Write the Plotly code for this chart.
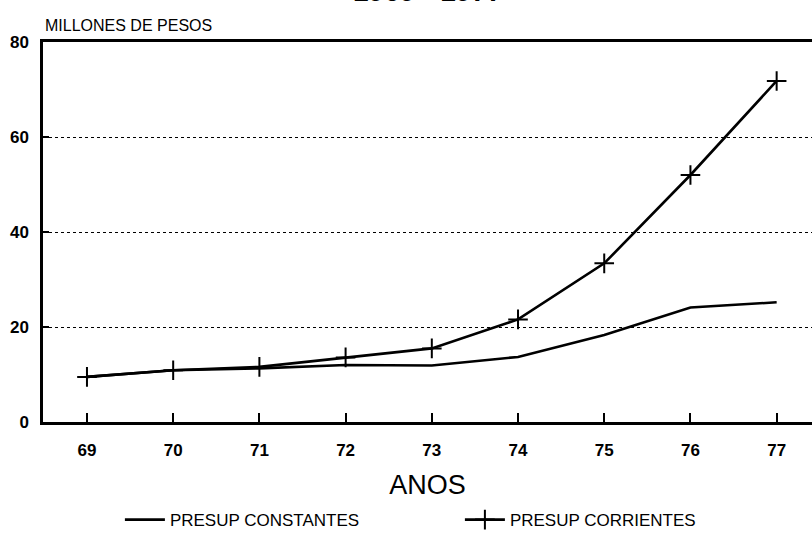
import plotly.graph_objects as go

# Budget series, millions of pesos, 1969-1977
years = [69, 70, 71, 72, 73, 74, 75, 76, 77]
year_labels = ["69", "70", "71", "72", "73", "74", "75", "76", "77"]
presup_constantes = [9.5, 10.9, 11.3, 12.0, 11.9, 13.7, 18.3, 24.1, 25.2]
presup_corrientes = [9.5, 10.9, 11.6, 13.6, 15.5, 21.6, 33.4, 52.0, 71.8]
y_ticks = [0, 20, 40, 60, 80]

FONT = "Liberation Sans, Arial, sans-serif"

fig = go.Figure()
fig.add_trace(go.Scatter(
    x=years, y=presup_constantes, mode="lines",
    name="PRESUP CONSTANTES",
    line=dict(color="black", width=2.6),
))
fig.add_trace(go.Scatter(
    x=years, y=presup_corrientes, mode="lines+markers",
    name="PRESUP CORRIENTES",
    line=dict(color="black", width=2.6),
    marker=dict(symbol="cross-thin", size=14, line=dict(color="black", width=2)),
))

fig.update_layout(
    width=812, height=545,
    margin=dict(l=43, r=0, t=42, b=123),
    paper_bgcolor="white", plot_bgcolor="white",
    font=dict(family=FONT, color="black"),
    showlegend=True,
    legend=dict(
        orientation="h", x=0.1, xanchor="left", y=-0.258, yanchor="middle",
        font=dict(size=17, family=FONT), itemwidth=40, entrywidth=285,
        bgcolor="rgba(0,0,0,0)",
    ),
    xaxis=dict(
        range=[68.49, 77.41], tickmode="array", tickvals=years, ticktext=year_labels,
        ticks="inside", ticklen=9, tickwidth=2, tickcolor="black",
        showline=True, linewidth=2.5, linecolor="black", mirror=True,
        showgrid=False, zeroline=False,
        tickfont=dict(size=17, family=FONT, weight="bold"), ticklabelstandoff=11,
        title=dict(text="ANOS", font=dict(size=27, family=FONT), standoff=16),
    ),
    yaxis=dict(
        range=[0, 80], tickmode="array", tickvals=y_ticks,
        ticks="inside", ticklen=6, tickwidth=2, tickcolor="black",
        showline=True, linewidth=2.5, linecolor="black",
        showgrid=True, gridcolor="black", griddash="dot", gridwidth=1.4,
        zeroline=False,
        tickfont=dict(size=17, family=FONT, weight="bold"), ticklabelstandoff=8,
    ),
)

# Period heading, partly above the page edge
fig.add_annotation(
    text="<b>1969 - 1977</b>", xref="paper", yref="paper",
    x=0.5, y=1.0, xshift=0, yshift=33, yanchor="bottom", xanchor="center",
    showarrow=False, font=dict(size=28, family=FONT),
)
# Unit label above the y axis
fig.add_annotation(
    text="MILLONES DE PESOS", xref="paper", yref="paper",
    x=0, y=1.0, xanchor="left", yanchor="bottom", yshift=6,
    showarrow=False, font=dict(size=16, family=FONT),
)

fig.write_html("out.html")
